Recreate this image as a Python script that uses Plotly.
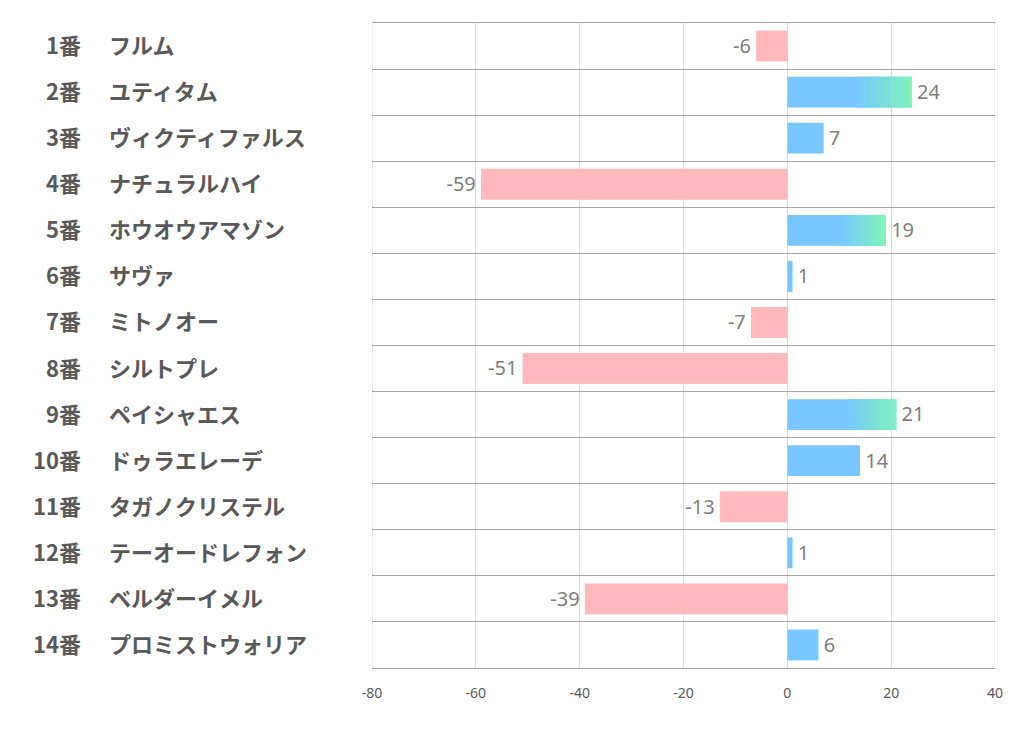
import plotly.graph_objects as go

numbers = ["1番", "2番", "3番", "4番", "5番", "6番", "7番", "8番", "9番", "10番", "11番", "12番", "13番", "14番"]
names = ["フルム", "ユティタム", "ヴィクティファルス", "ナチュラルハイ", "ホウオウアマゾン", "サヴァ", "ミトノオー",
         "シルトプレ", "ペイシャエス", "ドゥラエレーデ", "タガノクリステル", "テーオードレフォン", "ベルダーイメル", "プロミストウォリア"]
values = [-6, 24, 7, -59, 19, 1, -7, -51, 21, 14, -13, 1, -39, 6]
gradient = [False, True, False, False, True, False, False, False, True, False, False, False, False, False]
x_ticks = [-80, -60, -40, -20, 0, 20, 40]
x_tick_text = ["-80", "-60", "-40", "-20", "0", "20", "40"]

POS = (120, 200, 255)
NEG = "#FFB9BC"
GREEN = (128, 245, 184)

fig = go.Figure()
idx = list(range(len(values)))
colors = [f"rgb{POS}" if v >= 0 else NEG for v in values]
fig.add_trace(go.Bar(x=values, y=idx, orientation="h", marker=dict(color=colors, line=dict(width=0)),
                     width=0.67, hoverinfo="skip", showlegend=False))

# gradient overlay on selected bars
nseg = 24
for i, v in enumerate(values):
    if not gradient[i]:
        continue
    start = v * 0.55
    seg = (v - start) / nseg
    bases, lens, cols = [], [], []
    for k in range(nseg):
        t = (k + 0.5) / nseg
        c = tuple(round(POS[j] + (GREEN[j] - POS[j]) * t) for j in range(3))
        bases.append(start + k * seg)
        lens.append(seg * 1.02)
        cols.append(f"rgb{c}")
    fig.add_trace(go.Bar(x=lens, base=bases, y=[i] * nseg, orientation="h",
                         marker=dict(color=cols, line=dict(width=0)), width=0.67,
                         hoverinfo="skip", showlegend=False))

# value labels
fig.add_trace(go.Scatter(x=values, y=[i + 0.04 for i in idx], mode="text",
                         text=[(" " + str(v)) if v >= 0 else (str(v) + " ") for v in values],
                         textposition=["middle right" if v >= 0 else "middle left" for v in values],
                         textfont=dict(family="Noto Sans, Open Sans, sans-serif", size=20, color="#7F7F7F"),
                         hoverinfo="skip", showlegend=False, cliponaxis=False))

L = 364
for i in idx:
    fig.add_annotation(x=0, xref="paper", y=i, yref="y", text=numbers[i], showarrow=False,
                       xanchor="right", xshift=-(L - 75), yshift=2,
                       font=dict(family="Noto Sans CJK JP", size=22, color="#595959", weight="bold"))
    fig.add_annotation(x=0, xref="paper", y=i, yref="y", text=names[i], showarrow=False,
                       xanchor="left", xshift=-(L - 99), yshift=2,
                       font=dict(family="Noto Sans CJK JP", size=22, color="#595959", weight="bold"))

fig.update_layout(
    width=1014, height=722, margin=dict(l=L, r=27, t=15, b=62),
    paper_bgcolor="white", plot_bgcolor="white", barmode="overlay", bargap=0.33,
    xaxis=dict(range=[-80, 40], tickvals=x_ticks, ticktext=x_tick_text, showgrid=True, gridcolor="#D9D9D9",
               gridwidth=1, zeroline=False, showline=True, linecolor="#A6A6A6", linewidth=1, mirror=True,
               ticks="", ticklabelstandoff=12,
               tickfont=dict(family="Noto Sans, Open Sans, sans-serif", size=14, color="#595959")),
    yaxis=dict(range=[13.5, -0.5], tickvals=[i - 0.5 for i in range(15)], showticklabels=False,
               showgrid=True, gridcolor="#A6A6A6", gridwidth=1, zeroline=False, ticks="", showline=False),
)
for xv in [-80, 0, 40]:
    fig.add_shape(type="line", xref="x", yref="paper", x0=xv, x1=xv, y0=0, y1=1,
                  line=dict(color="#D9D9D9", width=1), layer="below")

fig.write_html("out.html")
